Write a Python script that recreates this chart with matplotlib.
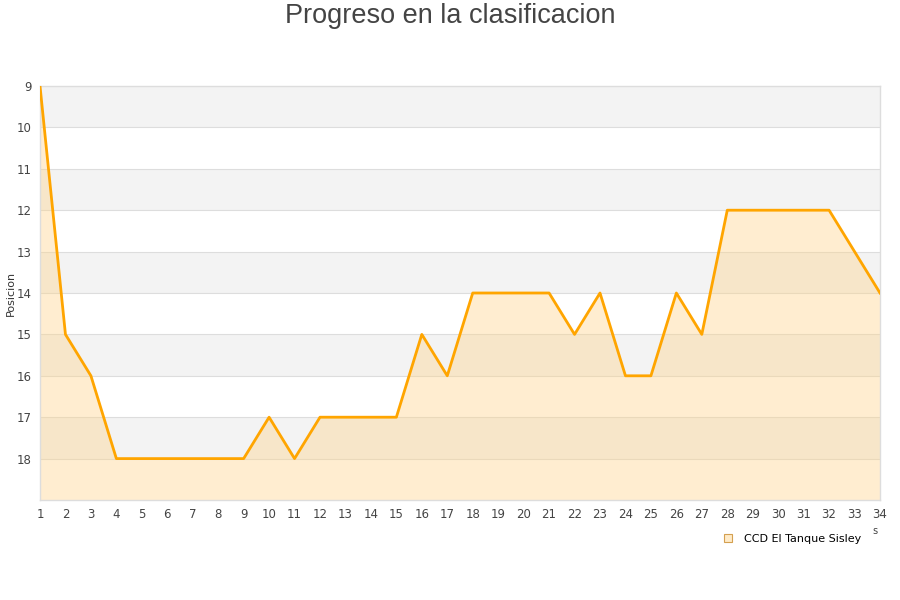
import matplotlib
matplotlib.use("Agg")
import matplotlib.pyplot as plt
from matplotlib.lines import Line2D

rounds = list(range(1, 35))
positions = [9, 15, 16, 18, 18, 18, 18, 18, 18, 17, 18, 17, 17, 17, 17, 15, 16, 14, 14, 14,
             14, 15, 14, 16, 16, 14, 15, 12, 12, 12, 12, 12, 13, 14]
team = "CCD El Tanque Sisley"
title = "Progreso en la clasificacion"
ylabel = "Posicion"
yticks = list(range(9, 19))

fig = plt.figure(figsize=(9, 6), dpi=100)
ax = fig.add_axes([40/900, 1-500/600, 840/900, 414/600])

ax.set_xlim(1, 34)
ax.set_ylim(19, 9)

for y0 in range(9, 19, 2):
    ax.axhspan(y0, y0 + 1, color="#f3f3f3", zorder=0, lw=0)
for y in range(10, 19):
    ax.axhline(y, color="#dddddd", lw=0.8, zorder=1)

ax.fill_between(rounds, positions, 19, color="#ffd48a", alpha=0.4, lw=0, zorder=2)
ax.plot(rounds, positions, color="#ffa500", lw=2, zorder=3)

ax.set_xticks(rounds)
ax.set_yticks(yticks)
ax.tick_params(axis="both", length=0, labelsize=8.5, colors="#444444")
ax.tick_params(axis="x", pad=6)
ax.tick_params(axis="y", pad=6)
for s in ax.spines.values():
    s.set_color("#dddddd")
    s.set_linewidth(1)

ax.set_ylabel(ylabel, fontsize=8, color="#333333")
ax.yaxis.set_label_coords(-24/840, (500-293)/414)
fig.text(0.5, 1-16/600, title, ha="center", va="center", fontsize=19.5,
         family="Liberation Sans", color="#444444")
fig.text(875/900, 1-531/600, "s", ha="center", va="center", fontsize=7, color="#444444")

handle = Line2D([], [], marker="s", linestyle="none", markersize=6,
                markerfacecolor="#ffebc8", markeredgecolor="#d4a050", markeredgewidth=0.8)
fig.legend([handle], [team], loc="center right", bbox_to_anchor=(866/900, 1-539/600),
           frameon=False, fontsize=8, handletextpad=0.5, borderaxespad=0)

fig.savefig("out.png", dpi=100)
